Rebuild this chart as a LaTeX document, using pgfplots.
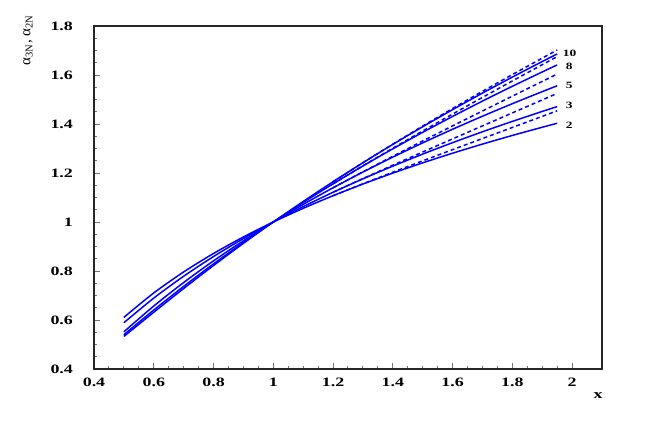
\documentclass[border=0pt]{standalone}
\usepackage{fontspec}
\setmainfont{Liberation Serif}
\newfontfamily\tickfont{Liberation Serif}[FakeStretch=1.4]
\usepackage{pgfplots}
\pgfplotsset{compat=1.18}
\definecolor{rootblue}{RGB}{0,0,255}
\begin{document}
\begin{tikzpicture}
\useasboundingbox (-47pt,-33.5pt) rectangle (280pt,184.5pt);
\begin{axis}[scale only axis,width=254pt,height=171.5pt,at={(0,0)},anchor=south west,
  xmin=0.4,xmax=2.1,ymin=0.4,ymax=1.8,
  xtick={0.4,0.6,0.8,1,1.2,1.4,1.6,1.8,2},ytick={0.4,0.6,0.8,1,1.2,1.4,1.6,1.8},
  minor x tick num=3,minor y tick num=3,tick align=inside,tick pos=left,
  major tick length=3pt,minor tick length=1.5pt,
  tick style={black!55,line width=0.5pt},
  axis line style={black!85,line width=0.9pt},
  /pgf/number format/assume math mode=true,
  every tick label/.append style={font=\tickfont\fontsize{6.4}{7}\selectfont\bfseries},
  yticklabel style={xshift=-7pt},xticklabel style={yshift=-1pt},
  clip mode=individual,
  sol/.style={rootblue,line width=0.75pt,smooth,no markers},
  dsh/.style={sol,dash pattern=on 2pt off 1.5pt}]
% solid curves (2,3,5,8,10)
\addplot[sol] coordinates {(0.5,0.6109) (0.6,0.7104) (0.7,0.7961) (0.8,0.8715) (0.9,0.9389) (1.0,1.0) (1.1,1.0558) (1.2,1.1073) (1.3,1.1550) (1.4,1.1996) (1.5,1.2414) (1.6,1.2808) (1.7,1.3180) (1.8,1.3533) (1.9,1.3868) (1.95,1.4030)};
\addplot[sol] coordinates {(0.5,0.5890) (0.6,0.6894) (0.7,0.7786) (0.8,0.8590) (0.9,0.9324) (1.0,1.0) (1.1,1.0627) (1.2,1.1213) (1.3,1.1763) (1.4,1.2281) (1.5,1.2772) (1.6,1.3238) (1.7,1.3683) (1.8,1.4107) (1.9,1.4513) (1.95,1.4710)};
\addplot[sol] coordinates {(0.5,0.5519) (0.6,0.6570) (0.7,0.7530) (0.8,0.8414) (0.9,0.9234) (1.0,1.0) (1.1,1.0719) (1.2,1.1397) (1.3,1.2039) (1.4,1.2649) (1.5,1.3230) (1.6,1.3786) (1.7,1.4318) (1.8,1.4829) (1.9,1.5321) (1.95,1.5560)};
\addplot[sol] coordinates {(0.5,0.5399) (0.6,0.6407) (0.7,0.7371) (0.8,0.8291) (0.9,0.9166) (1.0,1.0) (1.1,1.0796) (1.2,1.1558) (1.3,1.2287) (1.4,1.2987) (1.5,1.3661) (1.6,1.4309) (1.7,1.4935) (1.8,1.5540) (1.9,1.6125) (1.95,1.6411)};
\addplot[sol] coordinates {(0.5,0.5329) (0.6,0.6316) (0.7,0.7285) (0.8,0.8224) (0.9,0.9129) (1.0,1.0) (1.1,1.0837) (1.2,1.1643) (1.3,1.2419) (1.4,1.3167) (1.5,1.3889) (1.6,1.4586) (1.7,1.5262) (1.8,1.5915) (1.9,1.6550) (1.95,1.6860)};
% dashed curves
\addplot[dsh] coordinates {(1.2,1.1073) (1.3,1.1559) (1.4,1.2032) (1.5,1.2496) (1.6,1.2953) (1.7,1.3407) (1.8,1.3859) (1.9,1.4312) (1.95,1.4540)};
\addplot[dsh] coordinates {(1.2,1.1213) (1.3,1.1773) (1.4,1.2319) (1.5,1.2858) (1.6,1.3392) (1.7,1.3923) (1.8,1.4453) (1.9,1.4983) (1.95,1.5250)};
\addplot[dsh] coordinates {(1.2,1.1397) (1.3,1.2048) (1.4,1.2683) (1.5,1.3307) (1.6,1.3923) (1.7,1.4531) (1.8,1.5136) (1.9,1.5739) (1.95,1.6040)};
\addplot[dsh] coordinates {(1.2,1.1558) (1.3,1.2293) (1.4,1.3011) (1.5,1.3715) (1.6,1.4406) (1.7,1.5086) (1.8,1.5758) (1.9,1.6421) (1.95,1.6751)};
\addplot[dsh] coordinates {(1.2,1.1643) (1.3,1.2422) (1.4,1.3178) (1.5,1.3915) (1.6,1.4632) (1.7,1.5333) (1.8,1.6017) (1.9,1.6689) (1.95,1.7020)};
\begin{scope}[every node/.style={anchor=west,inner sep=0pt,font=\tickfont\fontsize{4.8}{5}\selectfont\bfseries}]
\node at (axis cs:1.968,1.690) {10};
\node at (axis cs:1.978,1.637) {8};
\node at (axis cs:1.978,1.559) {5};
\node at (axis cs:1.978,1.478) {3};
\node at (axis cs:1.978,1.396) {2};
\end{scope}
\end{axis}
\node[rotate=90,font=\fontsize{7.5}{8}\selectfont] at ([xshift=-33pt,yshift=-7pt]current axis.north west) {α\textsubscript{3N}, α\textsubscript{2N}};
\node[font=\tickfont\fontsize{6.4}{7}\selectfont\bfseries] at ([xshift=-2pt,yshift=-13.5pt]current axis.south east) {x};
\end{tikzpicture}
\end{document}
